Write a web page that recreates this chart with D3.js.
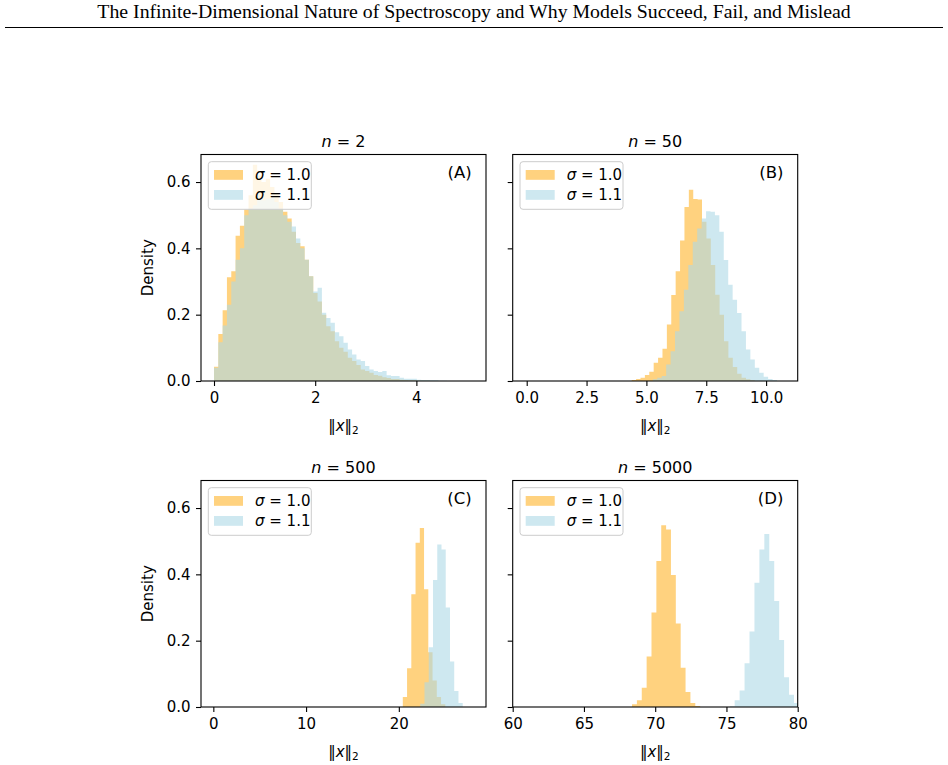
<!DOCTYPE html>
<html>
<head>
<meta charset="utf-8">
<title>Norm histograms</title>
<script src="https://cdn.jsdelivr.net/npm/d3@7/dist/d3.min.js"></script>
<style>
  body { margin: 0; background: #fff; }
  svg text { font-family: "DejaVu Sans", sans-serif; fill: #000; }
</style>
</head>
<body>
<script>
// ---- data (bar heights, density) ----
var header = "The Infinite-Dimensional Nature of Spectroscopy and Why Models Succeed, Fail, and Mislead";
var panelLetters = ["(A)", "(B)", "(C)", "(D)"];
var dims = ["2", "50", "500", "5000"];
var legendLabels = ["1.0", "1.1"];

// [first bin edge, bin width]
var binOrangeA = [0, 0.0853], binBlueA = [0, 0.0853];
var binOrangeB = [4.386, 0.1836], binBlueB = [5.269, 0.1852];
var binOrangeC = [20.43, 0.458], binBlueC = [22.31, 0.458];
var binOrangeD = [68.374, 0.3415], binBlueD = [75.23, 0.347];

var orangeA = [0.043, 0.142, 0.213, 0.313, 0.331, 0.438, 0.468, 0.517, 0.56, 0.652,
  0.62, 0.60, 0.61, 0.585, 0.565, 0.54, 0.51, 0.49, 0.45, 0.416,
  0.406, 0.366, 0.316, 0.265, 0.24, 0.20, 0.165, 0.15, 0.12, 0.10,
  0.088, 0.07, 0.06, 0.048, 0.035, 0.03, 0.025, 0.018, 0.016, 0.011,
  0.009, 0.006, 0.006, 0.004, 0.003, 0.002, 0.002, 0.001, 0.001, 0.001];
var blueA = [0.04, 0.117, 0.167, 0.23, 0.30, 0.366, 0.40, 0.50, 0.52, 0.53,
  0.55, 0.545, 0.55, 0.56, 0.54, 0.52, 0.50, 0.48, 0.466, 0.43,
  0.40, 0.366, 0.316, 0.27, 0.281, 0.206, 0.19, 0.176, 0.147, 0.135,
  0.115, 0.095, 0.08, 0.065, 0.06, 0.045, 0.035, 0.03, 0.027, 0.03,
  0.017, 0.015, 0.015, 0.01, 0.007, 0.007, 0.007, 0.004, 0.003, 0.003,
  0.002, 0.002, 0.001, 0.001];

var orangeB = [0.003, 0.006, 0.01, 0.018, 0.028, 0.055, 0.07, 0.097, 0.17, 0.259,
  0.331, 0.424, 0.525, 0.577, 0.549, 0.547, 0.48, 0.43, 0.35, 0.26,
  0.20, 0.12, 0.07, 0.042, 0.022, 0.01, 0.005, 0.002];
var blueB = [0.005, 0.01, 0.015, 0.05, 0.09, 0.15, 0.21, 0.275, 0.35, 0.42,
  0.46, 0.49, 0.512, 0.51, 0.50, 0.45, 0.365, 0.29, 0.245, 0.205,
  0.15, 0.095, 0.065, 0.04, 0.025, 0.013, 0.006, 0.003];

var orangeC = [0.03, 0.117, 0.34, 0.495, 0.54, 0.355, 0.165, 0.08, 0.03, 0.008];
var blueC = [0.01, 0.075, 0.18, 0.383, 0.49, 0.475, 0.30, 0.137, 0.048, 0.012];

var orangeD = [0.008, 0.02, 0.058, 0.152, 0.285, 0.44, 0.548, 0.535, 0.398, 0.252,
  0.118, 0.045, 0.012, 0.003];
var blueD = [0.002, 0.02, 0.05, 0.132, 0.228, 0.375, 0.475, 0.522, 0.44, 0.32,
  0.202, 0.09, 0.037, 0.012, 0.004];

var xTicksA = [0, 2, 4];
var xTicksB = [0, 2.5, 5, 7.5, 10];
var xTicksC = [0, 10, 20];
var xTicksD = [60, 65, 70, 75, 80];
var yTicks = [0, 0.2, 0.4, 0.6];

// ---- layout ----
var width = 948, height = 765;
var axW = 285, axH = 226.5;
var yMax = 0.683;

var panels = [
  {left: 201, top: 154.5, xdom: [-0.257, 5.376], ticks: xTicksA, fmt: d3.format("d"),
   orange: orangeA, blue: blueA, ob: binOrangeA, bb: binBlueA, ylab: true},
  {left: 512.7, top: 154.5, xdom: [-0.585, 11.32], ticks: xTicksB, fmt: d3.format(".1f"),
   orange: orangeB, blue: blueB, ob: binOrangeB, bb: binBlueB, ylab: false},
  {left: 201, top: 480.5, xdom: [-1.33, 29.4], ticks: xTicksC, fmt: d3.format("d"),
   orange: orangeC, blue: blueC, ob: binOrangeC, bb: binBlueC, ylab: true},
  {left: 512.7, top: 480.5, xdom: [60, 80], ticks: xTicksD, fmt: d3.format("d"),
   orange: orangeD, blue: blueD, ob: binOrangeD, bb: binBlueD, ylab: false}
];

var svg = d3.select("body").append("svg").attr("width", width).attr("height", height);

// page header
var head = svg.append("text")
  .attr("x", 474).attr("y", 18)
  .attr("text-anchor", "middle")
  .style("font-family", "'Liberation Serif', 'Times New Roman', serif")
  .style("font-size", "16px")
  .text(header);
var hl = head.node().getComputedTextLength();
head.style("font-size", (16 * 754 / hl) + "px");

svg.append("line")
  .attr("x1", 5).attr("x2", 943).attr("y1", 27.5).attr("y2", 27.5)
  .attr("stroke", "#000").attr("stroke-width", 1);

// histogram outline points: left edge of each bin, plus the closing right edge
function steps(vals, b) {
  var pts = vals.map(function(v, i) { return {x: b[0] + i * b[1], v: v}; });
  pts.push({x: b[0] + vals.length * b[1], v: vals[vals.length - 1]});
  return pts;
}

panels.forEach(function(p, k) {
  var xScale = d3.scaleLinear().domain(p.xdom).range([0, axW]);
  var yScale = d3.scaleLinear().domain([0, yMax]).range([axH, 0]);

  var g = svg.append("g").attr("transform", "translate(" + p.left + "," + p.top + ")");

  svg.append("defs").append("clipPath").attr("id", "clip" + k)
    .append("rect").attr("width", axW).attr("height", axH);

  var plot = g.append("g").attr("clip-path", "url(#clip" + k + ")");

  var area = d3.area()
    .curve(d3.curveStepAfter)
    .x(function(d) { return xScale(d.x); })
    .y0(yScale(0))
    .y1(function(d) { return yScale(d.v); });

  // orange first, lightblue on top
  [[p.orange, p.ob, "#ffa500", 0.5], [p.blue, p.bb, "#add8e6", 0.6]].forEach(function(s) {
    plot.append("path")
      .datum(steps(s[0], s[1]))
      .attr("d", area)
      .attr("fill", s[2])
      .attr("fill-opacity", s[3]);
  });

  // axes
  var ax = g.append("g").attr("transform", "translate(0," + axH + ")")
    .call(d3.axisBottom(xScale).tickValues(p.ticks).tickFormat(p.fmt).tickSize(5).tickPadding(6.5));
  var ay = g.append("g")
    .call(d3.axisLeft(yScale).tickValues(yTicks)
      .tickFormat(p.ylab ? d3.format(".1f") : function() { return ""; }).tickSize(5).tickPadding(5.5));
  [ax, ay].forEach(function(a) {
    a.select(".domain").remove();
    a.selectAll("line").attr("stroke", "#000").attr("stroke-width", 1.1);
    a.selectAll("text").style("font-size", "15px").style("font-family", "'DejaVu Sans', sans-serif");
  });

  g.append("rect").attr("width", axW).attr("height", axH)
    .attr("fill", "none").attr("stroke", "#000").attr("stroke-width", 1.1);

  // title
  var t = g.append("text").attr("x", axW / 2).attr("y", -8)
    .attr("text-anchor", "middle").style("font-size", "16px");
  t.append("tspan").style("font-style", "italic").text("n");
  t.append("tspan").text(" = " + dims[k]);

  // panel letter
  g.append("text").attr("x", axW * 0.95).attr("y", axH * 0.05 + 12.5)
    .attr("text-anchor", "end").style("font-size", "16.5px").text(panelLetters[k]);

  // x label
  var xl = g.append("text").attr("x", axW / 2).attr("y", axH + 49.5)
    .attr("text-anchor", "middle").style("font-size", "15px");
  xl.append("tspan").text("\u2016");
  xl.append("tspan").style("font-style", "italic").text("x");
  xl.append("tspan").text("\u2016");
  xl.append("tspan").attr("dy", 3).style("font-size", "10.5px").text("2");

  if (p.ylab) {
    g.append("text")
      .attr("transform", "translate(-48," + (axH / 2) + ") rotate(-90)")
      .attr("text-anchor", "middle").style("font-size", "15px").text("Density");
  }

  // legend
  var lg = g.append("g").attr("transform", "translate(7.3,7.2)");
  lg.append("rect").attr("width", 103).attr("height", 47.6).attr("rx", 3)
    .attr("fill", "#fff").attr("fill-opacity", 0.8)
    .attr("stroke", "#cccccc").attr("stroke-width", 1);
  [["#ffa500", 0.5], ["#add8e6", 0.6]].forEach(function(c, i) {
    lg.append("rect").attr("x", 5.7).attr("y", 8.3 + i * 20).attr("width", 29).attr("height", 9.8)
      .attr("fill", c[0]).attr("fill-opacity", c[1]);
    var lt = lg.append("text").attr("x", 46.7).attr("y", 18.3 + i * 20).style("font-size", "15px");
    lt.append("tspan").style("font-style", "italic").text("\u03c3");
    lt.append("tspan").text(" = " + legendLabels[i]);
  });
});
</script>
</body>
</html>
